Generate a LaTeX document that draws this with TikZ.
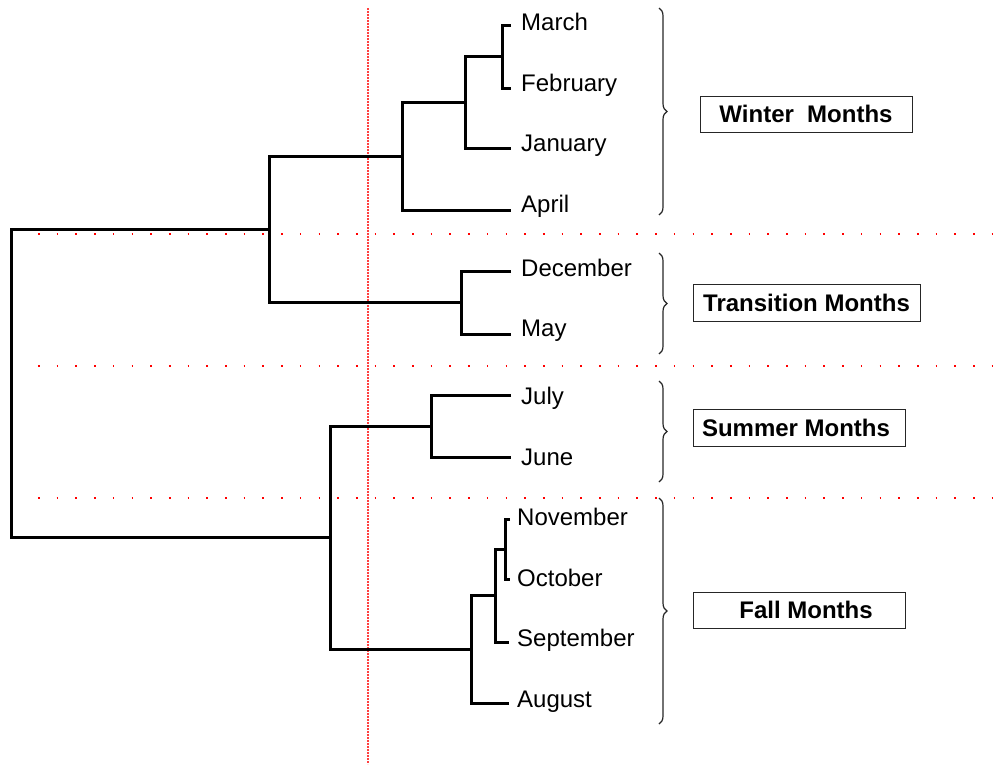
\documentclass[tikz,border=0pt]{standalone}
\usepackage{fontspec}
\setmainfont{Liberation Sans}
\usetikzlibrary{decorations.pathreplacing}
\begin{document}
\begin{tikzpicture}[x=1pt,y=-1pt,
  tree/.style={line width=3pt, line join=miter},
  lbl/.style={anchor=base west, inner sep=0pt, font=\fontsize{24}{28}\selectfont},
  grpbox/.style={draw=black!85, line width=1pt, inner sep=0pt, font=\bfseries\fontsize{24}{28}\selectfont},
  grpbrace/.style={draw=black!85, line width=1.2pt, decorate, decoration={brace, amplitude=8pt}},
  vdots/.style={draw=red!75, line width=1.3pt, dash pattern=on 2pt off 1pt},
  hdots/.style={draw=red, line width=1.6pt, dash pattern=on 1.6pt off 17.1pt}]
\useasboundingbox (0,0) rectangle (1003,764);

% red guide lines
\draw[vdots] (368,8) -- (368,764);
\draw[hdots] (38,234) -- (1003,234);
\draw[hdots] (38,366) -- (1003,366);
\draw[hdots] (38,498) -- (1003,498);

% leaf labels
\node[lbl] (march) at (521,30) {March};
\node[lbl] (february) at (521,91) {February};
\node[lbl] (january) at (521,151) {January};
\node[lbl] (april) at (521,212) {April};
\node[lbl] (december) at (521,276) {December};
\node[lbl] (may) at (521,336) {May};
\node[lbl] (july) at (521,404) {July};
\node[lbl] (june) at (521,465) {June};
\node[lbl] (november) at (517,525) {November};
\node[lbl] (october) at (517,586) {October};
\node[lbl] (september) at (517,646) {September};
\node[lbl] (august) at (517,707) {August};

% leaf ends
\coordinate (eMar) at (511,25);
\coordinate (eFeb) at (511,88);
\coordinate (eJan) at (511,148);
\coordinate (eApr) at (511,210);
\coordinate (eDec) at (511,271);
\coordinate (eMay) at (511,334);
\coordinate (eJul) at (511,395);
\coordinate (eJun) at (511,457);
\coordinate (eNov) at (510,519);
\coordinate (eOct) at (510,579);
\coordinate (eSep) at (509,642);
\coordinate (eAug) at (509,703);

% junctions
\coordinate (mf) at (502,56.5);
\coordinate (wj) at (465,102.25);
\coordinate (w) at (402,156.1);
\coordinate (t) at (461,302.5);
\coordinate (a) at (269,229.3);
\coordinate (s) at (431,426);
\coordinate (no) at (505,549);
\coordinate (fs) at (495,595.5);
\coordinate (f) at (471,649.25);
\coordinate (b) at (330,537.6);
\coordinate (root) at (11,383);

% dendrogram
\draw[tree] (eMar) -| (mf) |- (eFeb);
\draw[tree] (mf) -| (wj) |- (eJan);
\draw[tree] (wj) -| (w) |- (eApr);
\draw[tree] (eDec) -| (t) |- (eMay);
\draw[tree] (w) -| (a) |- (t);
\draw[tree] (eJul) -| (s) |- (eJun);
\draw[tree] (eNov) -| (no) |- (eOct);
\draw[tree] (no) -| (fs) |- (eSep);
\draw[tree] (fs) -| (f) |- (eAug);
\draw[tree] (s) -| (b) |- (f);
\draw[tree] (a) -| (root) |- (b);

% braces
\draw[grpbrace] (659,8) -- (659,215);
\draw[grpbrace] (659,253) -- (659,354);
\draw[grpbrace] (659,381) -- (659,482);
\draw[grpbrace] (659,498) -- (659,724);

% group boxes
\node[grpbox, minimum width=212pt, minimum height=36pt] (winter) at (806,114) {Winter\ \ Months};
\node[grpbox, minimum width=227pt, minimum height=37pt] (transition) at (806.5,302.5) {Transition Months};
\node[grpbox, minimum width=212pt, minimum height=37pt] (summer) at (799,427.5) {Summer Months\hspace*{6pt}};
\node[grpbox, minimum width=212pt, minimum height=36pt] (fall) at (799,610) {\hspace*{14pt}Fall Months};
\end{tikzpicture}
\end{document}
